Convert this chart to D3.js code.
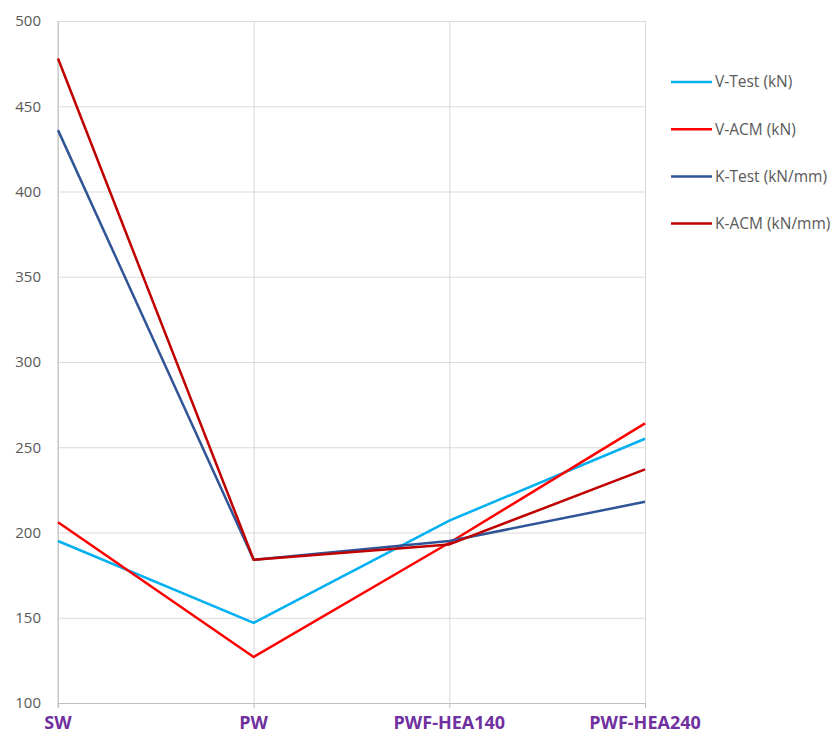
<!DOCTYPE html>
<html><head><meta charset="utf-8">
<script src="https://cdn.jsdelivr.net/npm/d3@7"></script>
<style>body{margin:0;background:#fff}svg{display:block}</style>
</head><body><svg id="c" width="838" height="733"></svg>
<script>
const categories = ["SW","PW","PWF-HEA140","PWF-HEA240"];
const seriesNames = ["V-Test (kN)","V-ACM (kN)","K-Test (kN/mm)","K-ACM (kN/mm)"];
const vTest = [195,147,207,255];
const vACM = [206,127,194,264];
const kTest = [436,184,195,218];
const kACM = [478,184,193,237];
const yTicks = [100,150,200,250,300,350,400,450,500];
const colors = ["#00B0F0","#FF0000","#2F5597","#C00000"];
const series = [vTest,vACM,kTest,kACM];
const font = "'Open Sans', Lato, sans-serif";

const svg = d3.select("#c");
const x = d3.scalePoint().domain(categories).range([58,645]);
const y = d3.scaleLinear().domain([100,500]).range([703,21]);

// horizontal grid
svg.append("g").call(d3.axisLeft(y).tickValues(yTicks).tickSize(-(645-58)).tickFormat(""))
  .attr("transform","translate(58,0)")
  .call(g=>g.select(".domain").remove())
  .call(g=>g.selectAll("line").attr("stroke","#D9D9D9").attr("stroke-width",1));
// vertical grid
svg.append("g").attr("transform","translate(0,703)")
  .call(d3.axisBottom(x).tickSize(-682).tickSizeOuter(0).tickFormat(""))
  .call(g=>g.select(".domain").remove())
  .call(g=>g.selectAll("line").attr("stroke","#D9D9D9").attr("y2",-682));
// ticks below axis
svg.append("g").attr("transform","translate(0,703)")
  .call(d3.axisBottom(x).tickSize(5).tickSizeOuter(0).tickFormat(""))
  .call(g=>g.select(".domain").attr("stroke","#BFBFBF"))
  .call(g=>g.selectAll("line").attr("stroke","#BFBFBF"));
// left axis line
svg.append("line").attr("x1",58).attr("x2",58).attr("y1",21).attr("y2",708).attr("stroke","#BFBFBF");

// y labels
svg.append("g").selectAll("text").data(yTicks).join("text")
  .attr("x",41).attr("y",d=>y(d)).attr("dy","0.35em").attr("text-anchor","end")
  .attr("font-family",font).attr("font-size",15).attr("fill","#595959")
  .text(d=>d);
// x labels
svg.append("g").selectAll("text").data(categories).join("text")
  .attr("x",d=>x(d)).attr("y",729).attr("text-anchor","middle")
  .attr("font-family",font).attr("font-weight","bold").attr("font-size",18).attr("fill","#7030A0")
  .text(d=>d);

const line = d3.line().x((d,i)=>x(categories[i])).y(d=>y(d));
svg.append("g").selectAll("path").data(series).join("path")
  .attr("d",line).attr("fill","none").attr("stroke",(d,i)=>colors[i])
  .attr("stroke-width",2.5).attr("stroke-linejoin","round");

// legend
const lg = svg.append("g").selectAll("g").data(seriesNames).join("g")
  .attr("transform",(d,i)=>`translate(671,${82+i*47.2})`);
lg.append("line").attr("x1",0).attr("x2",41).attr("stroke",(d,i)=>colors[i]).attr("stroke-width",2.5);
lg.append("text").attr("x",44).attr("dy","0.35em")
  .attr("font-family",font).attr("font-size",15.5).attr("fill","#595959")
  .text(d=>d);
</script></body></html>
